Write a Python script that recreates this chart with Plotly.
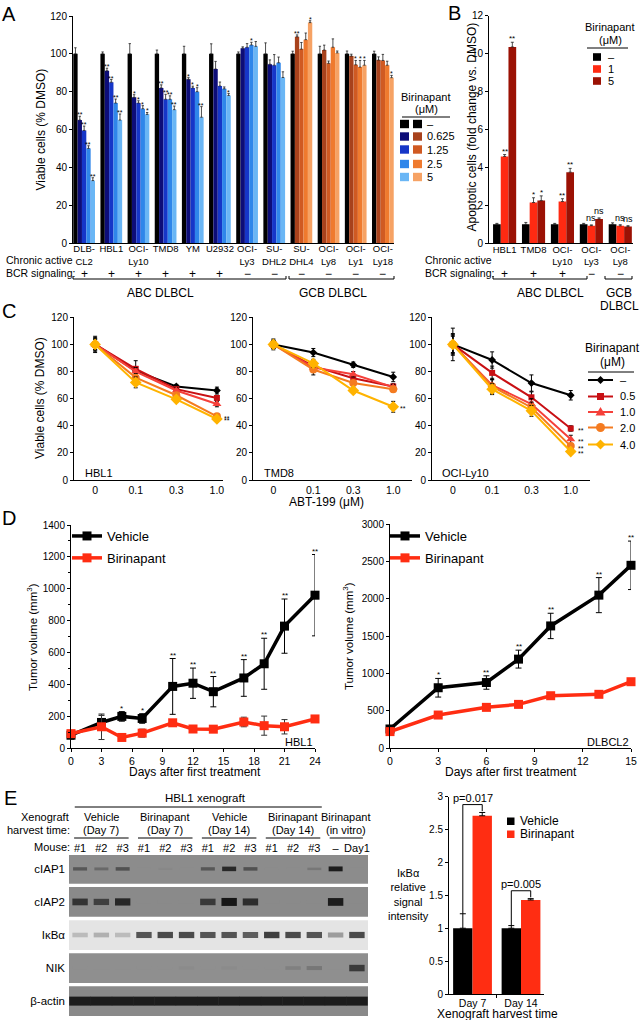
import plotly.graph_objects as go

W, H = 641, 1020
FONT = "Liberation Sans, Arial, Helvetica, sans-serif"


def PX(x):
    return x / W


def PY(y):
    return 1 - y / H


# ======================= DATA =======================
# ---- Panel A: viable cells (% DMSO) ----
a_cells = ["DLB-<br>CL2", "HBL1", "OCI-<br>Ly10", "TMD8", "YM", "U2932",
           "OCI-<br>Ly3", "SU-<br>DHL2", "SU-<br>DHL4", "OCI-<br>Ly8",
           "OCI-<br>Ly1", "OCI-<br>Ly18"]
a_subtype = ["ABC", "ABC", "ABC", "ABC", "ABC", "ABC", "ABC", "ABC",
             "GCB", "GCB", "GCB", "GCB"]
a_bcr = ["+", "+", "+", "+", "+", "+", "−", "−", "−", "−", "−", "−"]
a_doses = ["–", "0.625", "1.25", "2.5", "5"]
a_dmso = [100, 100, 100, 100, 100, 100, 100, 100, 100, 100, 100, 100]
a_d0625 = [65, 91, 77, 82, 86.5, 92, 103, 94.5, 109, 102, 98.8, 96.7]
a_d125 = [59.5, 85, 74, 76, 82, 83, 103.5, 94, 102.5, 95, 94.2, 96.5]
a_d25 = [50, 74, 71, 76, 80, 81.5, 104.7, 95.3, 107.5, 103.5, 93, 94]
a_d5 = [33, 65, 68, 70.5, 66.5, 78, 104, 87.5, 116.5, 100.5, 94, 87.4]
a_e_dmso = [3.2, 1, 5.4, 2, 4, 5.3, 1, 5.8, 1.4, 4, 1.5, 1.4]
a_e0625 = [2, 1.4, 1.4, 1.6, 0.9, 4, 0.7, 2.3, 1, 2.6, 1, 1.7]
a_e125 = [2.3, 1.4, 1.2, 2.6, 0.9, 2.1, 1.9, 5.6, 3.5, 1.2, 2.3, 3.2]
a_e25 = [1.4, 2.1, 1.6, 1.8, 2.1, 1, 1.4, 3, 3.5, 4.4, 3.5, 2.1]
a_e5 = [1.5, 3.2, 1, 1.9, 5.6, 1, 2.5, 3, 1, 1, 2.5, 1.2]
a_s0625 = ["**", "**", "*", "**", "*", "", "", "", "**", "", "", ""]
a_s125 = ["**", "**", "*", "**", "*", "", "", "", "", "", "*", ""]
a_s25 = ["**", "**", "*", "**", "*", "", "*", "", "", "", "*", ""]
a_s5 = ["**", "**", "*", "**", "**", "*", "", "", "*", "", "*", "*"]

# ---- Panel B: apoptotic cells (fold change vs DMSO) ----
b_cells = ["HBL1", "TMD8", "OCI-<br>Ly10", "OCI-<br>Ly3", "OCI-<br>Ly8"]
b_bcr = ["+", "+", "+", "−", "−"]
b_doses = ["–", "1", "5"]
b_dmso = [1.0, 1.0, 1.0, 1.0, 1.0]
b_d1 = [4.58, 2.15, 2.2, 0.93, 0.92]
b_d5 = [10.35, 2.25, 3.75, 1.28, 0.88]
b_e_dmso = [0.05, 0.1, 0.05, 0.05, 0.08]
b_e1 = [0.1, 0.25, 0.15, 0.04, 0.06]
b_e5 = [0.25, 0.25, 0.2, 0.06, 0.05]
b_s1 = ["**", "*", "**", "ns", "ns"]
b_s5 = ["**", "*", "**", "ns", "ns"]

# ---- Panel C: viability vs ABT-199 with birinapant ----
c_abt = ["0", "0.1", "0.3", "1.0"]
c_bir = ["–", "0.5", "1.0", "2.0", "4.0"]
c_hbl1_0 = [100, 80.5, 69, 66]
c_hbl1_05 = [100, 82, 67, 60.5]
c_hbl1_1 = [100, 80, 66, 56]
c_hbl1_2 = [100, 75.5, 62.5, 47]
c_hbl1_4 = [100, 72, 59.5, 45]
c_hbl1_err = [[6, 3, 1.5, 2.5], [5, 6, 2, 2], [4, 3, 2, 2], [4, 3, 2, 2], [4, 4, 2, 2]]
c_hbl1_sig = ["", "", "", "**", "**"]
c_tmd8_0 = [100, 94, 85, 76]
c_tmd8_05 = [100, 84, 75, 69]
c_tmd8_1 = [100, 83, 78, 68.5]
c_tmd8_2 = [100, 81.5, 71.5, 67]
c_tmd8_4 = [100, 86, 66, 54]
c_tmd8_err = [[4, 3, 2, 3.5], [3, 3, 2, 2], [3, 3, 2, 2], [3, 4, 2, 2], [3, 3, 2, 4]]
c_tmd8_sig = ["", "", "", "", "**"]
c_ly10_0 = [100, 88.5, 71.5, 62.5]
c_ly10_05 = [100, 79, 61, 38]
c_ly10_1 = [100, 70, 56, 30]
c_ly10_2 = [100, 69, 53.5, 25]
c_ly10_4 = [100, 67, 51, 21]
c_ly10_err = [[12, 6, 6, 3.5], [8, 5, 4, 2], [7, 5, 4, 3], [7, 5, 4, 2], [6, 4, 4, 2]]
c_ly10_sig = ["", "**", "**", "**", "**"]

# ---- Panel D: tumor volume ----
d_hbl1_days = [0, 3, 5, 7, 10, 12, 14, 17, 19, 21, 24]
d_hbl1_veh = [82, 162, 200, 187, 388, 408, 355, 441, 530, 766, 960]
d_hbl1_veh_err = [25, 45, 30, 30, 175, 95, 95, 115, 160, 170, 255]
d_hbl1_bir = [92, 135, 68, 95, 160, 121, 120, 165, 142, 135, 184]
d_hbl1_bir_err = [15, 80, 12, 25, 15, 12, 15, 30, 60, 45, 10]
d_hbl1_sig = ["", "", "*", "*", "**", "**", "**", "**", "**", "**", "**"]
d_dlbcl2_days = [0, 3, 6, 8, 10, 13, 15]
d_dlbcl2_veh = [255, 808, 878, 1192, 1637, 2050, 2450]
d_dlbcl2_veh_err = [30, 125, 90, 120, 170, 235, 325]
d_dlbcl2_bir = [220, 442, 545, 585, 701, 720, 889]
d_dlbcl2_bir_err = [20, 20, 20, 20, 20, 25, 30]
d_dlbcl2_sig = ["", "*", "**", "**", "**", "**", "**"]

# ---- Panel E: western blot band intensities (0..1) ----
e_lanes = ["#1", "#2", "#3", "#1", "#2", "#3", "#1", "#2", "#3",
           "#1", "#2", "#3", "–", "Day1"]
e_proteins = ["cIAP1", "cIAP2", "IκBα", "NIK", "β-actin"]
e_ciap1 = [0.45, 0.3, 0.5, 0, 0.03, 0, 0.45, 0.85, 0.5, 0, 0, 0.18, 0.95, 0]
e_ciap2 = [0.75, 0.65, 0.85, 0, 0, 0, 0.7, 1.0, 0.8, 0, 0, 0, 0.95, 0]
e_ikba = [0.2, 0.25, 0.2, 0.7, 0.75, 0.75, 0.7, 0.7, 0.65, 0.8, 0.75, 0.7, 0.35, 0.75]
e_nik = [0, 0, 0, 0, 0, 0.03, 0, 0.03, 0, 0, 0.12, 0.2, 0, 0.7]
e_actin = [0.95, 0.95, 0.95, 0.95, 0.95, 0.95, 0.95, 0.95, 0.95, 0.95, 0.95, 0.95, 0.95, 0.95]
e_groups = ["Vehicle", "Birinapant", "Vehicle", "Birinapant", "Birinapant"]
e_group_sub = ["(Day 7)", "(Day 7)", "(Day 14)", "(Day 14)", "(in vitro)"]
e_group_lanes = [(0, 2), (3, 5), (6, 8), (9, 11), (12, 13)]

# ---- Panel E right: IkBa relative signal ----
e_days = ["Day 7", "Day 14"]
e_veh = [1.0, 1.0]
e_veh_err = [0.22, 0.04]
e_bir = [2.71, 1.43]
e_bir_err = [0.05, 0.02]
e_pvals = ["p=0.017", "p=0.005"]

# ======================= STYLE =======================
A_BLUE = ["#000000", "#0d0d78", "#1636c8", "#2f86ea", "#6ab6f5"]
A_ORANGE = ["#000000", "#a8421c", "#d05a22", "#ef7a2e", "#f6a264"]
B_COLORS = ["#000000", "#ff2a12", "#9b1104"]
C_COLORS = ["#000000", "#c81014", "#f5403a", "#f47b20", "#ffb300"]
C_SYMBOLS = ["diamond", "square", "triangle-up", "circle", "diamond"]
C_SIZES = [6, 6, 8, 8, 9]
RED = "#ff2d12"
BLOT_BG = ["#8c8c8c", "#8a8a8a", "#e4e4e4", "#8f8f8f", "#898989"]
BLOT_SIZE = [10, 11, 11, 11, 15.5]
BLOT_W0 = [2, 3, 4, 3, 9]
BLOT_W1 = [3, 5, 3, 5, 0]

fig = go.Figure()
anns = []
shapes = []


def ann(x, y, text, size=11, xanchor="center", yanchor="middle", **kw):
    d = dict(x=PX(x), y=PY(y), xref="paper", yref="paper", text=text,
             showarrow=False, font=dict(size=size, family=FONT, color="black"),
             xanchor=xanchor, yanchor=yanchor)
    d.update(kw)
    anns.append(d)


def pline(x0, y0, x1, y1, color="black", w=1):
    shapes.append(dict(type="line", xref="paper", yref="paper",
                       x0=PX(x0), y0=PY(y0), x1=PX(x1), y1=PY(y1),
                       line=dict(color=color, width=w)))


def prect(x0, y0, x1, y1, color):
    shapes.append(dict(type="rect", xref="paper", yref="paper",
                       x0=PX(x0), y0=PY(y0), x1=PX(x1), y1=PY(y1),
                       fillcolor=color, line=dict(width=0)))


def ppath(pts, color):
    p = "M " + " L ".join(f"{PX(a):.5f},{PY(b):.5f}" for a, b in pts) + " Z"
    shapes.append(dict(type="path", xref="paper", yref="paper", path=p,
                       fillcolor=color, line=dict(width=0)))


def bracket(x0, x1, y, h=3):
    pline(x0, y - h, x0, y)
    pline(x0, y, x1, y)
    pline(x1, y, x1, y - h)


# ======================= PANEL A =======================
a_vals = [a_dmso, a_d0625, a_d125, a_d25, a_d5]
a_errs = [a_e_dmso, a_e0625, a_e125, a_e25, a_e5]
a_sigs = [None, a_s0625, a_s125, a_s25, a_s5]
for i in range(5):
    cols = [A_BLUE[i] if s == "ABC" else A_ORANGE[i] for s in a_subtype]
    fig.add_trace(go.Bar(
        x=a_cells, y=a_vals[i], name=a_doses[i],
        marker=dict(color=cols, line=dict(width=0)),
        error_y=dict(type="data", symmetric=False, array=a_errs[i],
                     arrayminus=[0] * len(a_cells), color="#222",
                     thickness=0.8, width=1.2),
        xaxis="x", yaxis="y", showlegend=False, hoverinfo="skip"))
    if a_sigs[i]:
        for j, s in enumerate(a_sigs[i]):
            if s:
                anns.append(dict(x=j - 0.32 + 0.16 * i, y=a_vals[i][j] + a_errs[i][j],
                                 xref="x", yref="y", text=s, showarrow=False,
                                 yanchor="bottom", yshift=-4,
                                 font=dict(size=7, family=FONT, color="black")))
for j, s in enumerate(a_bcr):
    anns.append(dict(x=j, y=PY(274), xref="x", yref="paper", text=s, showarrow=False,
                     yanchor="middle", font=dict(size=12, family=FONT, color="black")))
ann(4, 260, "Chronic active", 10.5, xanchor="left")
ann(4, 273, "BCR signaling:", 10.5, xanchor="left")
bracket(73, 286, 279)
bracket(289, 394, 279)
ann(160, 293, "ABC DLBCL", 12)
ann(333, 293, "GCB DLBCL", 12)
ann(40, 129.5, "Viable cells (% DMSO)", 12, textangle=-90)
ann(9, 14, "A", 20)
# legend A
ann(426, 97, "Birinapant", 11)
ann(426, 109, "(μM)", 11)
pline(402, 117, 450, 117)
a_leg_y = [124, 136.5, 149.5, 164, 177]
for i, lab in enumerate(a_doses):
    yy = a_leg_y[i]
    prect(400, yy - 4.2, 409, yy + 4.2, A_BLUE[i])
    prect(413, yy - 4.2, 422, yy + 4.2, A_ORANGE[i])
    ann(425, yy, lab, 11, xanchor="left")

# ======================= PANEL B =======================
b_vals = [b_dmso, b_d1, b_d5]
b_errs = [b_e_dmso, b_e1, b_e5]
b_sigs = [None, b_s1, b_s5]
for i in range(3):
    fig.add_trace(go.Bar(
        x=b_cells, y=b_vals[i], name=b_doses[i],
        marker=dict(color=B_COLORS[i], line=dict(width=0)),
        error_y=dict(type="data", symmetric=False, array=b_errs[i],
                     arrayminus=[0] * len(b_cells), color="#222",
                     thickness=0.8, width=1.5),
        xaxis="x2", yaxis="y2", showlegend=False, hoverinfo="skip"))
    if b_sigs[i]:
        for j, s in enumerate(b_sigs[i]):
            anns.append(dict(x=j + (i - 1) * 0.2667, y=b_vals[i][j] + b_errs[i][j],
                             xref="x2", yref="y2", text=s, showarrow=False,
                             yanchor="bottom", yshift=-3 if "*" in s else 0,
                             font=dict(size=8 if "*" in s else 9, family=FONT, color="black")))
for j, s in enumerate(b_bcr):
    anns.append(dict(x=j, y=PY(274), xref="x2", yref="paper", text=s, showarrow=False,
                     yanchor="middle", font=dict(size=12, family=FONT, color="black")))
ann(423, 260, "Chronic active", 10.5, xanchor="left")
ann(423, 273, "BCR signaling:", 10.5, xanchor="left")
bracket(493, 587, 279)
bracket(605, 632, 279)
ann(550, 293, "ABC DLBCL", 12)
ann(619, 293, "GCB", 12)
ann(619, 306, "DLBCL", 12)
ann(471.5, 127, "Apoptotic cells (fold change vs. DMSO)", 12, textangle=-90)
ann(454, 13, "B", 20)
ann(610, 27, "Birinapant", 11)
ann(610, 40, "(μM)", 11)
pline(587, 48, 628, 48)
for i, lab in enumerate(b_doses):
    yy = [57, 69, 81][i]
    prect(593, yy - 3.8, 601, yy + 3.8, B_COLORS[i])
    ann(606, yy, lab, 11, xanchor="left")

# ======================= PANEL C =======================
c_sets = [
    ("HBL1", [c_hbl1_0, c_hbl1_05, c_hbl1_1, c_hbl1_2, c_hbl1_4], c_hbl1_err, c_hbl1_sig, "3", 83),
    ("TMD8", [c_tmd8_0, c_tmd8_05, c_tmd8_1, c_tmd8_2, c_tmd8_4], c_tmd8_err, c_tmd8_sig, "4", 262),
    ("OCI-Ly10", [c_ly10_0, c_ly10_05, c_ly10_1, c_ly10_2, c_ly10_4], c_ly10_err, c_ly10_sig, "5", 440),
]
for name, series, errs, sig, ax, lx in c_sets:
    for i in range(5):
        fig.add_trace(go.Scatter(
            x=c_abt, y=series[i], mode="lines+markers", name=c_bir[i],
            line=dict(color=C_COLORS[i], width=2),
            marker=dict(symbol=C_SYMBOLS[i], size=C_SIZES[i], color=C_COLORS[i]),
            error_y=dict(type="data", array=errs[i], color="black", thickness=1, width=2),
            xaxis="x" + ax, yaxis="y" + ax, showlegend=False, hoverinfo="skip",
            cliponaxis=False))
        if sig[i]:
            anns.append(dict(x=3, y=series[i][3], xref="x" + ax, yref="y" + ax,
                             text=sig[i], showarrow=False, xanchor="left", xshift=5,
                             yanchor="middle", yshift=-2,
                             font=dict(size=7, family=FONT, color="black")))
    ann(lx, 473, name, 11, xanchor="left")
ann(40, 398, "Viable cells (% DMSO)", 12, textangle=-90)
ann(326, 502, "ABT-199 (μM)", 12)
ann(9, 311, "C", 20)
ann(612, 348, "Birinapant", 12)
ann(612, 362, "(μM)", 12)
pline(588, 372, 634, 372)
c_leg_y = [380, 396.5, 412, 427.5, 444.5]
for i, lab in enumerate(c_bir):
    yy = c_leg_y[i]
    cx = 600.5
    pline(588, yy, 613, yy, C_COLORS[i], 2)
    if C_SYMBOLS[i] == "diamond":
        r = 4 if i == 0 else 5
        ppath([(cx, yy - r), (cx + r, yy), (cx, yy + r), (cx - r, yy)], C_COLORS[i])
    elif C_SYMBOLS[i] == "square":
        prect(cx - 3.5, yy - 3.5, cx + 3.5, yy + 3.5, C_COLORS[i])
    elif C_SYMBOLS[i] == "triangle-up":
        ppath([(cx, yy - 5), (cx + 5, yy + 3.5), (cx - 5, yy + 3.5)], C_COLORS[i])
    else:
        shapes.append(dict(type="circle", xref="paper", yref="paper",
                           x0=PX(cx - 4.5), x1=PX(cx + 4.5), y0=PY(yy + 4.5), y1=PY(yy - 4.5),
                           fillcolor=C_COLORS[i], line=dict(width=0)))
    ann(618, yy, lab, 11, xanchor="left")

# ======================= PANEL D =======================
d_sets = [
    (d_hbl1_days, d_hbl1_veh, d_hbl1_veh_err, d_hbl1_bir, d_hbl1_bir_err, d_hbl1_sig, "6", "legend2"),
    (d_dlbcl2_days, d_dlbcl2_veh, d_dlbcl2_veh_err, d_dlbcl2_bir, d_dlbcl2_bir_err, d_dlbcl2_sig, "7", "legend3"),
]
for days, veh, veh_e, bir, bir_e, sig, ax, lg in d_sets:
    fig.add_trace(go.Scatter(
        x=days, y=veh, mode="lines+markers", name="Vehicle",
        line=dict(color="black", width=3.5),
        marker=dict(symbol="square", size=9, color="black"),
        error_y=dict(type="data", array=veh_e, color="black", thickness=1, width=3),
        xaxis="x" + ax, yaxis="y" + ax, legend=lg, legendgroup="v" + ax,
        hoverinfo="skip", cliponaxis=False))
    fig.add_trace(go.Scatter(
        x=days, y=bir, mode="lines+markers", name="Birinapant",
        line=dict(color=RED, width=3.5),
        marker=dict(symbol="square", size=9, color=RED),
        error_y=dict(type="data", array=bir_e, color="#333", thickness=1, width=3),
        xaxis="x" + ax, yaxis="y" + ax, legend=lg, legendgroup="b" + ax,
        hoverinfo="skip", cliponaxis=False))
    for j, s in enumerate(sig):
        if s:
            anns.append(dict(x=days[j], y=veh[j] + veh_e[j], xref="x" + ax, yref="y" + ax,
                             text=s, showarrow=False, yanchor="bottom", yshift=-3,
                             font=dict(size=8, family=FONT, color="black")))
ann(315, 742, "HBL1", 11, xanchor="right")
ann(631, 742, "DLBCL2", 11, xanchor="right")
ann(195, 772, "Days after first treatment", 12)
ann(511, 772, "Days after first treatment", 12)
ann(32, 637, "Tumor volume (mm<sup>3</sup>)", 11.5, textangle=-90)
ann(348, 636, "Tumor volume (mm<sup>3</sup>)", 11.5, textangle=-90)
ann(9, 518, "D", 20)


# ======================= PANEL E (blot) =======================
def blend(hexbg, t, dark=(22, 22, 22)):
    r, g, b = int(hexbg[1:3], 16), int(hexbg[3:5], 16), int(hexbg[5:7], 16)
    c = [round(v * (1 - t) + d * t) for v, d in zip((r, g, b), dark)]
    return "#%02x%02x%02x" % tuple(c)


e_rows = [e_ciap1, e_ciap2, e_ikba, e_nik, e_actin]
lane_x = list(range(len(e_lanes)))
for r, row in enumerate(e_rows):
    shapes.append(dict(type="rect", xref="x8", yref="y8", x0=-0.52, x1=13.52,
                       y0=r - 0.45, y1=r + 0.45, fillcolor=BLOT_BG[r],
                       line=dict(width=0), layer="below"))
    fig.add_trace(go.Scatter(
        x=lane_x, y=[r] * len(row), mode="markers",
        marker=dict(symbol="line-ew-open", size=BLOT_SIZE[r],
                    color=[blend(BLOT_BG[r], t) for t in row],
                    line=dict(width=[BLOT_W0[r] + BLOT_W1[r] * t for t in row])),
        xaxis="x8", yaxis="y8", showlegend=False, hoverinfo="skip"))

ann(205, 798, "HBL1 xenograft", 11.5)
shapes.append(dict(type="line", xref="x8", yref="paper", x0=-0.25, x1=11.35,
                   y0=PY(807), y1=PY(807), line=dict(color="black", width=1)))
for g, (lo, hi) in enumerate(e_group_lanes):
    mid = (lo + hi) / 2
    anns.append(dict(x=mid, y=PY(817), xref="x8", yref="paper", text=e_groups[g],
                     showarrow=False, yanchor="middle",
                     font=dict(size=11, family=FONT, color="black")))
    anns.append(dict(x=mid, y=PY(830), xref="x8", yref="paper", text=e_group_sub[g],
                     showarrow=False, yanchor="middle",
                     font=dict(size=11, family=FONT, color="black")))
    shapes.append(dict(type="line", xref="x8", yref="paper", x0=lo - 0.28, x1=hi + 0.28,
                       y0=PY(838), y1=PY(838), line=dict(color="black", width=1)))
ann(71, 817, "Xenograft", 11, xanchor="right")
ann(72, 830, "harvest time:", 11, xanchor="right")
ann(72, 847, "Mouse:", 11, xanchor="right")
ann(10, 798, "E", 20)

# ======================= PANEL E (bars) =======================
fig.add_trace(go.Bar(
    x=e_days, y=e_veh, name="Vehicle", marker=dict(color="black", line=dict(width=0)),
    error_y=dict(type="data", symmetric=False, array=e_veh_err, arrayminus=[0, 0],
                 color="black", thickness=1, width=3),
    xaxis="x9", yaxis="y9", showlegend=False, hoverinfo="skip"))
fig.add_trace(go.Bar(
    x=e_days, y=e_bir, name="Birinapant", marker=dict(color=RED, line=dict(width=0)),
    error_y=dict(type="data", symmetric=False, array=e_bir_err, arrayminus=[0, 0],
                 color="black", thickness=1, width=3),
    xaxis="x9", yaxis="y9", showlegend=False, hoverinfo="skip"))
for i in range(len(e_days)):
    top = e_bir[i] + e_bir_err[i] + 0.12
    xl, xr = i - 0.2, i + 0.2
    for (x0, y0, x1, y1) in [(xl, e_veh[i] + e_veh_err[i], xl, top), (xl, top, xr, top),
                             (xr, top, xr, e_bir[i] + e_bir_err[i] + 0.02)]:
        shapes.append(dict(type="line", xref="x9", yref="y9", x0=x0, y0=y0, x1=x1, y1=y1,
                           line=dict(color="black", width=1)))
    anns.append(dict(x=i, y=top, xref="x9", yref="y9", text=e_pvals[i], showarrow=False,
                     yanchor="bottom", yshift=-1, font=dict(size=11, family=FONT, color="black")))
ann(408, 894.5, "IκBα<br>relative<br>signal<br>intensity", 11)
ann(497, 1014, "Xenograft harvest time", 12)
prect(507, 817.5, 514.5, 825, "black")
prect(507, 830.5, 514.5, 838, RED)
ann(518, 821, "Vehicle", 12, xanchor="left")
ann(518, 834, "Birinapant", 12, xanchor="left")


# ======================= LAYOUT =======================
def axis(**kw):
    d = dict(showgrid=False, zeroline=False, showline=True, linecolor="black",
             linewidth=1, ticks="outside", ticklen=3, tickwidth=1, tickcolor="black",
             tickfont=dict(size=10, family=FONT, color="black"), automargin=False,
             fixedrange=True)
    d.update(kw)
    return d


def TF(s):
    return dict(size=s, family=FONT, color="black")


layout = dict(
    template="none",
    width=W, height=H, autosize=False,
    margin=dict(l=0, r=0, t=0, b=0, pad=0),
    paper_bgcolor="white", plot_bgcolor="white",
    font=dict(family=FONT, color="black", size=11),
    barmode="group", bargap=0.2, bargroupgap=0,
    hovermode=False, showlegend=True,
    xaxis=axis(domain=[PX(73), PX(394)], anchor="y", type="category",
               range=[-0.41, 11.41], ticks="", tickangle=0, tickfont=TF(9.5),
               ticklabelstandoff=-3),
    yaxis=axis(domain=[PY(243), PY(16)], anchor="x", range=[0, 120], dtick=20),
    xaxis2=axis(domain=[PX(489), PX(633)], anchor="y2", type="category",
                range=[-0.54, 4.44], ticks="", tickangle=0, tickfont=TF(9.5),
                ticklabelstandoff=-3),
    yaxis2=axis(domain=[PY(243.3), PY(15.7)], anchor="x2", range=[0, 12], dtick=2),
    xaxis3=axis(domain=[PX(74), PX(223)], anchor="y3", type="category",
                range=[-0.52, 3.15], ticks="", tickangle=0, tickfont=TF(10.5)),
    yaxis3=axis(domain=[PY(480), PY(317.3)], anchor="x3", range=[0, 120], dtick=20),
    xaxis4=axis(domain=[PX(253), PX(412)], anchor="y4", type="category",
                range=[-0.51, 3.47], ticks="", tickangle=0, tickfont=TF(10.5)),
    yaxis4=axis(domain=[PY(480), PY(317.3)], anchor="x4", range=[0, 120], dtick=20),
    xaxis5=axis(domain=[PX(432), PX(590)], anchor="y5", type="category",
                range=[-0.53, 3.49], ticks="", tickangle=0, tickfont=TF(10.5)),
    yaxis5=axis(domain=[PY(480), PY(317.3)], anchor="x5", range=[0, 120], dtick=20),
    xaxis6=axis(domain=[PX(71), PX(315)], anchor="y6", range=[0, 24], dtick=3,
                tickangle=0, tickfont=TF(10.5)),
    yaxis6=axis(domain=[PY(748.3), PY(525)], anchor="x6", range=[0, 1400], dtick=200,
                minor=dict(ticks="outside", ticklen=2, dtick=100, tickcolor="black")),
    xaxis7=axis(domain=[PX(390), PX(631)], anchor="y7", range=[0, 15], dtick=3,
                tickangle=0, tickfont=TF(10.5)),
    yaxis7=axis(domain=[PY(748), PY(524.3)], anchor="x7", range=[0, 3000], dtick=500),
    xaxis8=axis(domain=[PX(69), PX(368)], anchor="y8", range=[-0.52, 13.52],
                showline=False, ticks="", side="top", tickmode="array", tickangle=0,
                tickvals=lane_x, ticktext=e_lanes, tickfont=TF(11)),
    yaxis8=axis(domain=[PY(1016), PY(855)], anchor="x8", range=[4.45, -0.42],
                showline=False, ticks="", tickmode="array",
                tickvals=list(range(len(e_proteins))), ticktext=e_proteins,
                tickfont=TF(11.5), ticklabelstandoff=3),
    xaxis9=axis(domain=[PX(449), PX(544)], anchor="y9", type="category",
                range=[-0.485, 1.474], tickson="boundaries", tickangle=0, tickfont=TF(10.5),
                ticklabelstandoff=-1),
    yaxis9=axis(domain=[PY(994), PY(796.7)], anchor="x9", range=[0, 3], dtick=0.5),
    legend=dict(visible=False),
    legend2=dict(x=PX(67), y=PY(521), xanchor="left", yanchor="top",
                 font=TF(13), bgcolor="rgba(0,0,0,0)", borderwidth=0,
                 itemwidth=30, tracegroupgap=2, traceorder="grouped"),
    legend3=dict(x=PX(385), y=PY(521), xanchor="left", yanchor="top",
                 font=TF(13), bgcolor="rgba(0,0,0,0)", borderwidth=0,
                 itemwidth=30, tracegroupgap=2, traceorder="grouped"),
    annotations=anns,
    shapes=shapes,
)
fig.update_layout(**layout)

fig.write_html("out.html", config={"displayModeBar": False},
               post_script="document.body.style.margin='0';")
